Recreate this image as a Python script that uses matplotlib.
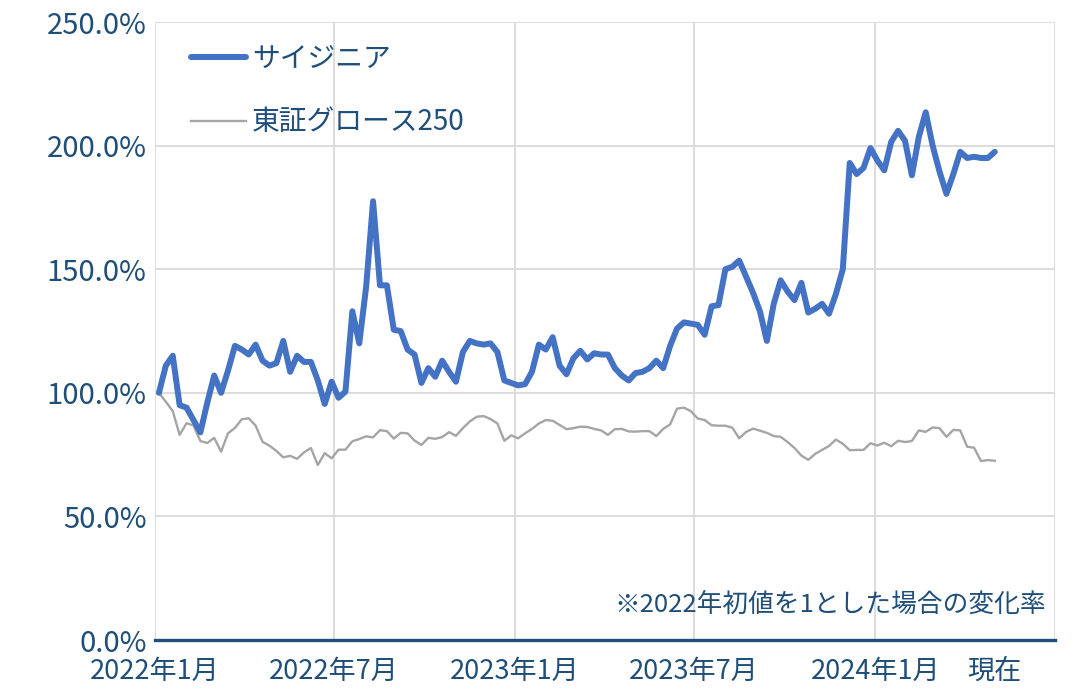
import matplotlib
matplotlib.use("Agg")
import matplotlib.pyplot as plt
import matplotlib.dates as mdates
from matplotlib.ticker import FuncFormatter, FixedLocator
import pandas as pd

plt.rcParams['font.family'] = ['Noto Sans CJK JP', 'DejaVu Sans']

# weekly closes, 2022年初値 = 100
saijinia = [
    100, 111, 115, 95, 94, 89, 84, 96, 107, 100,
    109, 119, 117.5, 115.5, 119.5, 113, 111, 112, 121, 108.5,
    115, 112.5, 112.5, 105, 95.5, 104.5, 98, 100.5, 133, 120,
    143, 177.5, 143.5, 143.5, 125.5, 125, 117.5, 115.5, 104, 110,
    106.5, 113, 108.5, 104.5, 116.5, 121, 120, 119.5, 120, 116.5,
    105, 104, 103, 103.5, 108.5, 119.5, 117.5, 122.5, 111, 107.5,
    114, 117, 113.5, 116, 115.5, 115.5, 110, 107, 105, 108,
    108.5, 110, 113, 110, 119, 126, 128.5, 128, 127.5, 123.5,
    135, 135.5, 150, 151, 153.5, 147, 140.5, 133, 121, 136,
    145.5, 141, 137.5, 144.5, 132.5, 134, 136, 132, 140, 150,
    193, 188.5, 191, 199, 194, 190, 201.5, 206, 202, 188,
    203.5, 213.5, 200, 189.5, 180.5, 188.5, 197.5, 195, 195.5, 195,
    195, 197.5,
]
growth250 = [
    100, 96.4, 92.6, 83, 87.7, 86.8, 80.5, 79.7, 81.8, 76.2,
    83.6, 85.8, 89.3, 89.7, 86.7, 80.2, 78.6, 76.5, 73.9, 74.5,
    73.3, 75.9, 77.7, 70.8, 75.6, 73.5, 77, 77, 80.4, 81.3,
    82.4, 82.0, 84.9, 84.5, 81.5, 83.8, 83.6, 80.7, 78.9, 81.8,
    81.4, 82.1, 84.1, 82.6, 85.7, 88.4, 90.3, 90.6, 89.4, 87.6,
    80.6, 82.8, 81.6, 83.6, 85.4, 87.6, 89.0, 88.7, 87.0, 85.3,
    85.7, 86.3, 86.2, 85.4, 84.8, 83.0, 85.3, 85.4, 84.4, 84.3,
    84.5, 84.5, 82.5, 85.4, 87.2, 93.6, 94.0, 92.6, 89.6, 89.0,
    86.9, 86.7, 86.7, 85.9, 81.6, 84.2, 85.5, 84.7, 83.8, 82.5,
    82.2, 80.1, 77.7, 74.6, 72.9, 75.3, 76.9, 78.5, 81.1, 79.4,
    76.8, 76.9, 76.9, 79.6, 78.7, 79.8, 78.4, 80.6, 80.1, 80.5,
    84.8, 84.2, 86.0, 85.7, 82.2, 85.0, 84.8, 78.2, 77.8, 72.4,
    72.8, 72.5,
]
series_names = ['サイジニア', '東証グロース250']
tick_dates = ['2022-01-01', '2022-07-01', '2023-01-01', '2023-07-01', '2024-01-01', '2024-07-01']
tick_labels = ['2022年1月', '2022年7月', '2023年1月', '2023年7月', '2024年1月', '']
now_label = '現在'
note = '※2022年初値を1とした場合の変化率'

dates = pd.date_range('2022-01-05', periods=len(saijinia), freq='7D')

TEXT = '#1F4E79'
GRID = '#D9D9D9'

fig = plt.figure(figsize=(10.74, 6.89), dpi=100)
ax = fig.add_axes([0.1443, 0.0711, 0.8380, 0.8969])

ax.plot(dates, growth250, color='#A5A5A5', lw=1.7, label=series_names[1], zorder=3)
ax.plot(dates, saijinia, color='#4472C4', lw=4.3, label=series_names[0],
        solid_capstyle='round', solid_joinstyle='round', zorder=4)

ax.set_ylim(0, 250)
ax.set_yticks(range(0, 251, 50))
ax.yaxis.set_major_formatter(FuncFormatter(lambda v, p: f'{v:.1f}%'))

major = [mdates.date2num(pd.Timestamp(d)) for d in tick_dates]
ax.set_xlim(major[0], major[-1])
ax.xaxis.set_major_locator(FixedLocator(major))
ax.set_xticklabels(tick_labels)
ax.xaxis.set_minor_locator(FixedLocator([mdates.date2num(dates[-1])]))
ax.xaxis.set_minor_formatter(FuncFormatter(lambda v, p: now_label))

ax.grid(True, which='major', color=GRID, lw=1.3)
ax.set_axisbelow(True)
for s in ['left', 'right', 'top']:
    ax.spines[s].set_visible(False)
ax.spines['bottom'].set_color(TEXT)
ax.spines['bottom'].set_linewidth(2.4)
ax.spines['bottom'].set_zorder(5)

ax.tick_params(axis='both', which='both', length=0, colors=TEXT)
ax.tick_params(axis='y', labelsize=21, pad=6)
ax.tick_params(axis='x', which='both', labelsize=19.5, pad=13)

handles, labels = ax.get_legend_handles_labels()
leg = ax.legend(handles[::-1], labels[::-1], loc='upper left', bbox_to_anchor=(0.012, 1.005),
                frameon=False, fontsize=20, handlelength=2.0, labelspacing=1.2,
                handletextpad=0.2, labelcolor=TEXT)

ax.text(0.99, 0.057, note, transform=ax.transAxes, ha='right', va='center',
        fontsize=18.5, color=TEXT)

fig.savefig('out.png', dpi=100)
